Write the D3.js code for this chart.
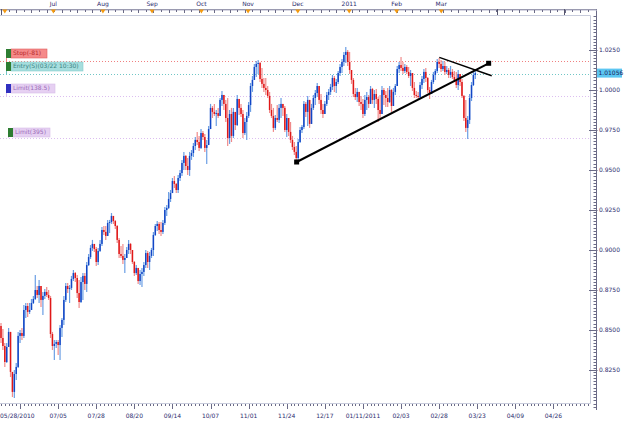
<!DOCTYPE html>
<html>
<head>
<meta charset="utf-8">
<script src="https://d3js.org/d3.v7.min.js"></script>
<style>
  html, body { margin: 0; padding: 0; background: #fff; }
  svg { display: block; font-family: "DejaVu Sans", Verdana, sans-serif; }
</style>
</head>
<body>
<svg id="chart" width="625" height="422"></svg>
<script>
// daily AUD/USD candles, one bar per trading day (Sun-Fri), bar 0 = 05/31/2010
var firstOpen = 0.8525;

var highs = [
  .8544,.8506,.8419,.8419,.8513,.8481,.8238,.8250,.8294,.8488,
  .8500,.8513,.8657,.8669,.8669,.8669,.8694,.8713,.8844,.8775,
  .8813,.8775,.8738,.8756,.8769,.8750,.8713,.8488,.8438,.8438,
  .8438,.8531,.8575,.8713,.8794,.8794,.8781,.8838,.8875,.8863,
  .8844,.8813,.8831,.8856,.8856,.8925,.8975,.9031,.9063,.9038,
  .9019,.9013,.9063,.9144,.9150,.9150,.9188,.9188,.9231,.9213,
  .9188,.9156,.9075,.9025,.9038,.8975,.9019,.9063,.9044,.8988,
  .8931,.8906,.8888,.8875,.8888,.8925,.9000,.8994,.8988,.9013,
  .9113,.9163,.9181,.9175,.9175,.9188,.9269,.9281,.9363,.9375,
  .9450,.9463,.9419,.9469,.9500,.9563,.9613,.9594,.9575,.9613,
  .9625,.9669,.9706,.9738,.9713,.9756,.9744,.9725,.9688,.9775,
  .9913,.9900,.9913,.9875,.9888,.9950,.9994,.9969,.9938,.9950,
  .9875,.9888,.9888,.9863,.9969,.9938,.9913,.9875,.9825,.9863,
  .9925,1.0044,1.0088,1.0163,1.0181,1.0188,1.0175,1.0138,1.0075,1.0075,
  1.0025,.9988,.9913,.9888,.9844,.9906,.9913,.9950,.9913,.9900,
  .9850,.9825,.9800,.9713,.9675,.9650,.9694,.9769,.9781,.9931,
  .9925,.9963,.9888,.9913,.9969,1.0000,1.0044,1.0000,.9975,.9913,
  .9931,.9988,1.0006,1.0038,1.0094,1.0088,1.0069,1.0119,1.0163,1.0194,
  1.0238,1.0269,1.0250,1.0238,1.0125,1.0075,1.0013,1.0013,.9988,.9963,
  .9944,.9969,.9988,.9969,1.0025,1.0013,1.0000,1.0006,.9956,.9969,
  1.0025,1.0013,.9994,1.0013,1.0025,1.0006,1.0013,1.0038,1.0150,1.0175,
  1.0206,1.0175,1.0163,1.0156,1.0144,1.0125,1.0106,1.0050,.9994,.9988,
  1.0050,1.0088,1.0131,1.0138,1.0081,1.0019,1.0063,1.0113,1.0131,1.0194,
  1.0200,1.0188,1.0181,1.0175,1.0150,1.0138,1.0150,1.0131,1.0119,1.0113,
  1.0125,1.0100,1.0069,.9969,.9938,.9838,.9975,1.0050,1.0113,1.0119
];

var lows = [
  .8419,.8375,.8269,.8294,.8425,.8206,.8081,.8075,.8188,.8263,
  .8419,.8438,.8450,.8575,.8581,.8600,.8625,.8663,.8688,.8700,
  .8669,.8644,.8594,.8694,.8706,.8688,.8450,.8375,.8313,.8388,
  .8344,.8313,.8456,.8531,.8675,.8731,.8669,.8750,.8806,.8800,
  .8700,.8638,.8669,.8688,.8750,.8738,.8900,.8944,.8994,.8988,
  .8900,.8906,.8988,.9025,.9094,.9063,.9100,.9106,.9163,.9163,
  .9131,.9044,.8950,.8950,.8913,.8856,.8950,.8975,.8975,.8913,
  .8838,.8844,.8788,.8781,.8769,.8838,.8888,.8888,.8875,.8950,
  .8963,.9088,.9119,.9100,.9088,.9100,.9156,.9213,.9256,.9300,
  .9363,.9388,.9356,.9356,.9431,.9463,.9500,.9500,.9469,.9463,
  .9563,.9581,.9625,.9656,.9619,.9631,.9688,.9613,.9538,.9681,
  .9763,.9825,.9838,.9775,.9825,.9838,.9900,.9875,.9800,.9650,
  .9663,.9675,.9700,.9750,.9775,.9844,.9831,.9700,.9719,.9688,
  .9825,.9863,.9988,1.0063,1.0081,1.0100,1.0050,1.0013,.9988,.9969,
  .9950,.9856,.9825,.9738,.9750,.9800,.9794,.9825,.9838,.9738,
  .9706,.9713,.9669,.9625,.9594,.9550,.9556,.9669,.9731,.9756,
  .9831,.9775,.9763,.9800,.9875,.9906,.9956,.9913,.9850,.9825,
  .9850,.9900,.9938,.9969,1.0000,.9988,.9981,1.0038,1.0088,1.0106,
  1.0150,1.0169,1.0150,1.0100,1.0038,.9956,.9938,.9925,.9900,.9875,
  .9825,.9838,.9875,.9888,.9938,.9913,.9888,.9913,.9800,.9825,
  .9913,.9906,.9894,.9894,.9919,.9863,.9938,.9969,1.0025,1.0106,
  1.0119,1.0100,1.0106,1.0100,1.0075,1.0025,.9994,.9950,.9950,.9944,
  .9944,1.0006,1.0044,1.0050,.9981,.9944,.9975,1.0038,1.0063,1.0106,
  1.0138,1.0113,1.0119,1.0094,1.0100,1.0075,1.0075,1.0069,1.0050,1.0013,
  1.0000,1.0025,.9950,.9806,.9738,.9694,.9788,.9931,1.0025,1.0069
];

var closes = [
  .8450,.8400,.8300,.8394,.8488,.8238,.8113,.8225,.8269,.8463,
  .8481,.8463,.8625,.8650,.8613,.8625,.8669,.8694,.8750,.8719,
  .8775,.8688,.8713,.8738,.8719,.8700,.8475,.8400,.8413,.8425,
  .8406,.8513,.8563,.8688,.8775,.8756,.8763,.8819,.8856,.8825,
  .8731,.8675,.8800,.8838,.8788,.8906,.8956,.9013,.9038,.9006,
  .8925,.8994,.9038,.9125,.9113,.9088,.9169,.9175,.9213,.9181,
  .9150,.9063,.8975,.8963,.8938,.8950,.9000,.9038,.9000,.8925,
  .8856,.8888,.8806,.8850,.8863,.8906,.8981,.8925,.8963,.9000,
  .9094,.9150,.9163,.9125,.9113,.9169,.9250,.9263,.9319,.9356,
  .9431,.9413,.9375,.9450,.9481,.9544,.9588,.9525,.9500,.9588,
  .9606,.9650,.9688,.9675,.9638,.9731,.9706,.9638,.9656,.9756,
  .9888,.9863,.9850,.9856,.9838,.9938,.9969,.9913,.9825,.9700,
  .9850,.9713,.9863,.9781,.9944,.9888,.9850,.9731,.9800,.9838,
  .9906,1.0025,1.0063,1.0144,1.0163,1.0169,1.0069,1.0038,1.0013,1.0000,
  .9963,.9875,.9838,.9763,.9825,.9813,.9888,.9913,.9888,.9750,
  .9825,.9738,.9688,.9644,.9613,.9575,.9675,.9750,.9769,.9913,
  .9863,.9938,.9788,.9888,.9950,.9981,1.0025,.9938,.9875,.9850,
  .9913,.9969,.9988,1.0019,1.0075,1.0025,1.0050,1.0106,1.0144,1.0175,
  1.0219,1.0238,1.0175,1.0125,1.0063,.9975,.9956,.9988,.9925,.9913,
  .9850,.9938,.9956,.9913,1.0006,.9938,.9975,.9944,.9875,.9850,
  1.0000,.9969,.9950,.9925,1.0000,.9900,.9988,1.0025,1.0131,1.0156,
  1.0138,1.0119,1.0144,1.0113,1.0088,1.0106,1.0013,.9969,.9963,.9956,
  1.0031,1.0069,1.0113,1.0075,1.0000,.9975,1.0050,1.0094,1.0119,1.0175,
  1.0163,1.0131,1.0150,1.0113,1.0125,1.0094,1.0113,1.0081,1.0063,1.0031,
  1.0100,1.0050,.9963,.9825,.9763,.9813,.9950,1.0031,1.0094,1.01056
];

// bottom date axis: label every 20 bars
var dateLabels = ["05/28/2010","07/05","07/28","08/20","09/14","10/07","11/01",
                  "11/24","12/17","01/11/2011","02/03","02/28","03/23","04/09","04/26"];
var dateBars   = [10,30,50,70,90,110,130,150,170,190,210,230,250,270,290];

// top month strip
var monthLabels = ["Jul","Aug","Sep","Oct","Nov","Dec","2011","Feb","Mar"];
var monthBars   = [27.5,53.5,79.3,105.2,129.7,155.8,182.8,207.7,231.1];
var futureMonthBars = [260.6,295.8];

var priceTicks = [0.825,0.85,0.875,0.9,0.925,0.95,0.975,1.0,1.025];

// order lines
var orderNames  = ["Stop(-81)","Entry(S)(03/22 10:30)","Limit(138.5)","Limit(395)"];
var orderPrices = [1.0181, 1.0100, 0.99615, 0.9700];

// trend lines, [bar, price]
var supportLine    = [[155.2, 0.9550], [256.0, 1.0167]];
var resistanceLine = [[230.1, 1.0204], [257.6, 1.0089]];

var lastPrice = "1.01056";

var svg = d3.select("#chart");
var plot = { left: 0, top: 15, right: 590, bottom: 403 };

var x = d3.scaleLinear().domain([0, 309.2]).range([1, 590]);
var y = d3.scaleLinear().domain([0.8, 1.05]).range([410, 10]);

var navy = "#2c2c6e";

svg.append("rect").attr("width", 625).attr("height", 422).attr("fill", "#fff");

svg.append("clipPath").attr("id", "clip")
  .append("rect")
    .attr("x", plot.left).attr("y", plot.top)
    .attr("width", plot.right - plot.left).attr("height", plot.bottom - plot.top);

var bars = closes.map(function(c, i) {
    var o = i === 0 ? firstOpen : closes[i - 1];
    return {
        i : i, o : o, c : c,
        h : Math.max(highs[i], o, c),
        l : Math.min(lows[i], o, c)
    };
});

var g = svg.append("g").attr("clip-path", "url(#clip)");

// order lines (dotted)
var orderStyles = [
    { line: "#f08080", fill: "#f58a8a", stroke: "#e06060", text: "#b82a2a", tab: "#2e7d32", bx: 6,  by: -12, w: 36 },
    { line: "#70c6c6", fill: "#a6dede", stroke: "#88cccc", text: "#3a8484", tab: "#2e7d32", bx: 6,  by: -12, w: 72 },
    { line: "#dcbef0", fill: "#e6d0f2", stroke: "#d6bce8", text: "#9a6cb8", tab: "#3030c0", bx: 6,  by: -12, w: 44 },
    { line: "#dcbef0", fill: "#e6d0f2", stroke: "#d6bce8", text: "#9a6cb8", tab: "#2e7d32", bx: 8,  by: -10, w: 37 }
];

orderPrices.forEach(function(p, k) {
    var s = orderStyles[k];
    var yy = Math.round(y(p)) + 0.5;
    g.append("line")
        .attr("x1", 0).attr("x2", plot.right)
        .attr("y1", yy).attr("y2", yy)
        .attr("stroke", s.line).attr("stroke-width", 1)
        .attr("stroke-dasharray", "1,2");
});

// candles
var upDark = "#1246c6", upLight = "#6a9ee4";
var dnDark = "#e01818", dnLight = "#f08a8a";

var candles = g.selectAll("g.candle")
    .data(bars)
  .enter()
    .append("g")
    .attr("class", "candle");

candles.append("line")
    .attr("x1", function(d) { return x(d.i); })
    .attr("x2", function(d) { return x(d.i); })
    .attr("y1", function(d) { return y(d.h); })
    .attr("y2", function(d) { return y(d.l); })
    .attr("stroke", function(d) { return d.c >= d.o ? upLight : dnLight; })
    .attr("stroke-width", 1.2);

candles.append("rect")
    .attr("x", function(d) { return x(d.i) - 0.75; })
    .attr("width", 1.5)
    .attr("y", function(d) { return y(Math.max(d.o, d.c)); })
    .attr("height", function(d) { return Math.max(1, Math.abs(y(d.o) - y(d.c))); })
    .attr("fill", function(d) { return d.c >= d.o ? upDark : dnDark; });

// trend lines
var lineGen = d3.line()
    .x(function(d) { return x(d[0]); })
    .y(function(d) { return y(d[1]); });

g.append("path").datum(supportLine)
    .attr("d", lineGen).attr("fill", "none")
    .attr("stroke", "#000").attr("stroke-width", 2);

g.append("path").datum(resistanceLine)
    .attr("d", lineGen).attr("fill", "none")
    .attr("stroke", "#000").attr("stroke-width", 1.4);

g.selectAll("rect.handle")
    .data(supportLine)
  .enter()
    .append("rect")
    .attr("class", "handle")
    .attr("x", function(d) { return x(d[0]) - 2.5; })
    .attr("y", function(d) { return y(d[1]) - 2.5; })
    .attr("width", 5).attr("height", 5)
    .attr("fill", "#000");

// order labels
orderPrices.forEach(function(p, k) {
    var s = orderStyles[k];
    var yy = Math.round(y(p));
    var top = yy + s.by;
    g.append("line")
        .attr("x1", s.bx + 0.5).attr("x2", s.bx + 0.5)
        .attr("y1", top + 9).attr("y2", yy)
        .attr("stroke", s.line).attr("stroke-width", 1);
    g.append("rect")
        .attr("x", s.bx + 5).attr("y", top)
        .attr("width", s.w).attr("height", 9)
        .attr("fill", s.fill).attr("stroke", s.stroke).attr("stroke-width", 0.6);
    g.append("rect")
        .attr("x", s.bx).attr("y", top)
        .attr("width", 5).attr("height", 9)
        .attr("fill", s.tab);
    g.append("text")
        .attr("x", s.bx + 7).attr("y", top + 4.8)
        .attr("dominant-baseline", "middle")
        .attr("font-size", "6px")
        .attr("fill", s.text)
        .text(orderNames[k]);
});

// plot frame
svg.append("path")
    .attr("d", "M0," + (plot.top + 0.5) + "H" + (plot.right + 0.5) + "V" + (plot.bottom + 0.5) + "H0")
    .attr("fill", "none").attr("stroke", "#c8ccdc").attr("stroke-width", 1);

// right price axis
var axisX = 596.5;
svg.append("line")
    .attr("x1", axisX).attr("x2", axisX).attr("y1", 9).attr("y2", 410)
    .attr("stroke", "#6a6a86").attr("stroke-width", 1);

var minorPrices = y.ticks(100).filter(function(v) { return y(v) > 16 && y(v) < 409; });
svg.selectAll("line.ytick-minor")
    .data(minorPrices)
  .enter()
    .append("line")
    .attr("x1", axisX - 3).attr("x2", axisX)
    .attr("y1", function(d) { return Math.round(y(d)) + 0.5; })
    .attr("y2", function(d) { return Math.round(y(d)) + 0.5; })
    .attr("stroke", "#6a6a86");

svg.selectAll("line.ytick")
    .data(priceTicks)
  .enter()
    .append("line")
    .attr("x1", plot.right - 1).attr("x2", axisX + 1)
    .attr("y1", function(d) { return Math.round(y(d)) + 0.5; })
    .attr("y2", function(d) { return Math.round(y(d)) + 0.5; })
    .attr("stroke", "#6a6a86");

svg.selectAll("text.ylabel")
    .data(priceTicks)
  .enter()
    .append("text")
    .attr("x", 599)
    .attr("y", function(d) { return y(d); })
    .attr("dominant-baseline", "middle")
    .attr("font-size", "6px")
    .attr("fill", navy)
    .text(function(d) { return d3.format(".4f")(d); });

// last price marker
var lastY = y(closes[closes.length - 1]);
svg.append("rect")
    .attr("x", 597).attr("y", lastY - 4.5)
    .attr("width", 25).attr("height", 9)
    .attr("fill", "#5cc6f2");
svg.append("text")
    .attr("x", 598.5).attr("y", lastY)
    .attr("dominant-baseline", "middle")
    .attr("font-size", "6px")
    .attr("fill", "#1a1a5a")
    .text(lastPrice);

// bottom date axis
var dateAxisY = 403;
var minorBars = d3.range(0, 310, 2);
svg.selectAll("line.xtick-minor")
    .data(minorBars)
  .enter()
    .append("line")
    .attr("x1", function(d) { return Math.round(x(d)) + 0.5; })
    .attr("x2", function(d) { return Math.round(x(d)) + 0.5; })
    .attr("y1", dateAxisY + 1).attr("y2", dateAxisY + 3)
    .attr("stroke", "#6a6a86");

svg.selectAll("line.xtick")
    .data(dateBars)
  .enter()
    .append("line")
    .attr("x1", function(d) { return Math.round(x(d)) + 0.5; })
    .attr("x2", function(d) { return Math.round(x(d)) + 0.5; })
    .attr("y1", dateAxisY + 1).attr("y2", dateAxisY + 6)
    .attr("stroke", "#6a6a86");

svg.selectAll("text.xlabel")
    .data(dateLabels)
  .enter()
    .append("text")
    .attr("x", function(d, i) { return i === 0 ? 0 : x(dateBars[i]); })
    .attr("y", 416.5)
    .attr("text-anchor", function(d, i) { return i === 0 ? "start" : "middle"; })
    .attr("dominant-baseline", "middle")
    .attr("font-size", "6px")
    .attr("fill", navy)
    .text(function(d) { return d; });

// top month strip
svg.append("line")
    .attr("x1", 0).attr("x2", axisX).attr("y1", 9.5).attr("y2", 9.5)
    .attr("stroke", "#9a9ab0");
svg.append("line")
    .attr("x1", 0).attr("x2", axisX).attr("y1", 10.5).attr("y2", 10.5)
    .attr("stroke", "#d8d8e4");

svg.selectAll("line.ttick")
    .data(d3.range(0, 310, 4))
  .enter()
    .append("line")
    .attr("x1", function(d) { return Math.round(x(d)) + 0.5; })
    .attr("x2", function(d) { return Math.round(x(d)) + 0.5; })
    .attr("y1", 10).attr("y2", function(d) { return d % 8 === 0 ? 13 : 12; })
    .attr("stroke", "#6a6a86");

svg.selectAll("line.fmonth")
    .data(futureMonthBars.concat([0]))
  .enter()
    .append("line")
    .attr("x1", function(d) { return Math.round(x(d)) + 0.5; })
    .attr("x2", function(d) { return Math.round(x(d)) + 0.5; })
    .attr("y1", 9).attr("y2", 15)
    .attr("stroke", "#55556e");

svg.selectAll("path.marker")
    .data(monthBars.concat([2]))
  .enter()
    .append("path")
    .attr("d", function(d) {
        var mx = x(d);
        return "M" + (mx - 2.5) + ",9.5L" + (mx + 2.5) + ",9.5L" + mx + ",13.5Z";
    })
    .attr("fill", "#f39a10");

svg.selectAll("text.month")
    .data(monthLabels)
  .enter()
    .append("text")
    .attr("x", function(d, i) { return x(monthBars[i]); })
    .attr("y", 4.5)
    .attr("text-anchor", "middle")
    .attr("dominant-baseline", "middle")
    .attr("font-size", "6px")
    .attr("fill", navy)
    .text(function(d) { return d; });
</script>
</body>
</html>
